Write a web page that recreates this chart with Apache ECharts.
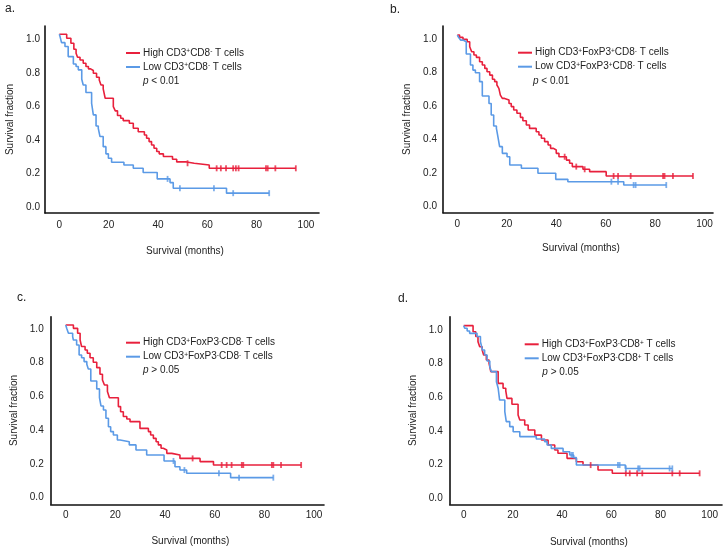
<!DOCTYPE html>
<html><head><meta charset="utf-8">
<script src="https://cdn.jsdelivr.net/npm/echarts@6/dist/echarts.min.js"></script>
<style>html,body{margin:0;padding:0;background:#fff}#c{width:726px;height:551px}</style>
</head><body><div id="c"></div>
<script>
// ---------- text / ticks ----------
const xTicks = [0, 20, 40, 60, 80, 100];
const yTicks = [0, 0.2, 0.4, 0.6, 0.8, 1.0];
const panelLabels = ['a.', 'b.', 'c.', 'd.'];
const highNames = ['High CD3⁺CD8⁻ T cells', 'High CD3⁺FoxP3⁺CD8⁻ T cells', 'High CD3⁺FoxP3⁻CD8⁻ T cells', 'High CD3⁺FoxP3⁻CD8⁺ T cells'];
const lowNames = ['Low CD3⁺CD8⁻ T cells', 'Low CD3⁺FoxP3⁺CD8⁻ T cells', 'Low CD3⁺FoxP3⁻CD8⁻ T cells', 'Low CD3⁺FoxP3⁻CD8⁺ T cells'];
const pTexts = ['< 0.01', '< 0.01', '> 0.05', '> 0.05'];
const xTitle = 'Survival (months)';
const yTitle = 'Survival fraction';

// ---------- panel a ----------
const aHighTime = [0, 3.0, 4.7, 5.9, 6.8, 7.4, 8.4, 9.7, 10.8, 11.8, 12.7, 13.8, 15.1, 16.2, 16.9, 17.8, 18.6, 21.9, 22.7, 23.6, 24.9, 25.9, 28.4, 30, 32, 34.5, 35.4, 36.4, 37.4, 38.4, 39.5, 40.5, 42.2, 45.9, 47.6, 51.6, 54.7, 60.8];
const aHighSurv = [1.0, 0.976, 0.946, 0.911, 0.887, 0.863, 0.847, 0.827, 0.808, 0.794, 0.784, 0.768, 0.744, 0.728, 0.698, 0.675, 0.619, 0.569, 0.544, 0.516, 0.5, 0.486, 0.47, 0.44, 0.42, 0.40, 0.381, 0.361, 0.341, 0.321, 0.302, 0.288, 0.272, 0.256, 0.240, 0.232, 0.222, 0.202];
const aHighCensor = [52, 63.8, 65.5, 67.6, 70.5, 71.6, 72.7, 83.8, 84.5, 87.6, 95.9];
const aLowTime = [0, 0.3, 0.9, 2.3, 3.6, 5.7, 6.8, 7.7, 9.1, 9.7, 10.8, 13.1, 13.8, 14.9, 15.8, 16.5, 17.8, 18.9, 19.9, 21.2, 26.2, 30, 34, 39.7, 44.9, 46.2, 67.8];
const aLowSurv = [1.0, 0.986, 0.95, 0.927, 0.867, 0.823, 0.808, 0.788, 0.732, 0.698, 0.653, 0.589, 0.52, 0.454, 0.44, 0.391, 0.331, 0.288, 0.262, 0.238, 0.222, 0.202, 0.177, 0.139, 0.117, 0.083, 0.054];
const aLowCensor = [43.9, 48.9, 62.7, 70.5, 85.1];

// ---------- panel b ----------
const bHighTime = [0, 0.9, 2.3, 4.0, 5.0, 5.8, 6.7, 7.7, 9.0, 10.1, 11.1, 12.0, 13.1, 14.2, 15.1, 16.0, 16.8, 17.4, 18.2, 19.1, 20.9, 21.8, 22.8, 24.1, 25.5, 26.5, 27.9, 29.2, 31.9, 33.0, 34.0, 35.3, 36.7, 37.7, 38.9, 40.0, 41.1, 44.1, 45.4, 46.5, 50.8, 53.5, 60.2];
const bHighSurv = [1.0, 0.986, 0.974, 0.96, 0.93, 0.9, 0.881, 0.867, 0.841, 0.821, 0.801, 0.781, 0.761, 0.736, 0.722, 0.702, 0.682, 0.642, 0.622, 0.612, 0.592, 0.573, 0.553, 0.533, 0.509, 0.489, 0.463, 0.443, 0.423, 0.404, 0.384, 0.364, 0.344, 0.324, 0.314, 0.294, 0.274, 0.254, 0.235, 0.215, 0.199, 0.185, 0.159];
const bHighCensor = [43.4, 48.1, 51.5, 63.2, 65, 70.1, 83.2, 83.8, 87.2, 95.3];
const bLowTime = [0, 0.5, 1.3, 2.3, 3.6, 5.3, 6.3, 7.3, 9.0, 10.1, 12.8, 13.7, 14.7, 15.8, 16.4, 17.1, 18.2, 20.1, 21.2, 25.9, 32.6, 39.8, 44.7, 67.3];
const bLowSurv = [1.0, 0.986, 0.97, 0.96, 0.887, 0.821, 0.791, 0.775, 0.722, 0.636, 0.592, 0.523, 0.457, 0.443, 0.394, 0.334, 0.294, 0.274, 0.225, 0.205, 0.175, 0.139, 0.125, 0.105];
const bLowCensor = [62.3, 65, 71.3, 72.1, 84.5];

// ---------- panel c ----------
const cHighTime = [0, 3.1, 4.8, 5.8, 6.4, 7.8, 8.7, 9.8, 11.1, 12.5, 13.8, 14.8, 15.6, 16.8, 17.6, 21.2, 22.1, 23.2, 24.6, 25.9, 29.9, 33.3, 34.2, 35.3, 36.4, 37.3, 38.4, 39.3, 40.7, 42.7, 46.0, 54.1, 59.5];
const cHighSurv = [1.0, 0.98, 0.951, 0.911, 0.872, 0.852, 0.832, 0.806, 0.779, 0.747, 0.708, 0.674, 0.644, 0.605, 0.569, 0.516, 0.486, 0.457, 0.443, 0.427, 0.387, 0.368, 0.348, 0.328, 0.308, 0.289, 0.269, 0.259, 0.239, 0.229, 0.209, 0.19, 0.17];
const cHighCensor = [51.1, 62.8, 64.8, 66.8, 70.9, 71.5, 83, 83.6, 86.7, 94.8];
const cLowTime = [0, 0.4, 1.1, 2.8, 3.1, 4.4, 5.4, 6.4, 7.4, 8.5, 9.1, 10.1, 12.5, 13.6, 14.2, 15.2, 16.2, 17.2, 18.1, 19.2, 20.8, 21.9, 25.6, 28.3, 32.6, 39.6, 44.0, 46.0, 48.7, 66.4];
const cLowSurv = [1.0, 0.98, 0.951, 0.931, 0.911, 0.881, 0.822, 0.806, 0.783, 0.767, 0.739, 0.668, 0.621, 0.569, 0.52, 0.496, 0.447, 0.397, 0.368, 0.348, 0.318, 0.308, 0.289, 0.259, 0.229, 0.194, 0.16, 0.14, 0.121, 0.095];
const cLowCensor = [43.4, 47.8, 61.7, 69.8, 83.6];

// ---------- panel d ----------
const dHighTime = [0, 3.8, 4.9, 5.8, 6.5, 7.5, 8.1, 9.2, 10.3, 11.0, 14.0, 16.0, 17.1, 17.6, 19.6, 22.1, 22.8, 24.8, 26.2, 28.9, 31.6, 34.3, 37.0, 38.3, 42.0, 45.8, 48.5, 54.6, 60.4];
const dHighSurv = [1.0, 0.964, 0.935, 0.905, 0.875, 0.855, 0.826, 0.796, 0.776, 0.727, 0.657, 0.628, 0.612, 0.568, 0.533, 0.469, 0.44, 0.41, 0.38, 0.35, 0.321, 0.291, 0.261, 0.242, 0.212, 0.192, 0.172, 0.143, 0.123];
const dHighCensor = [51.6, 65.9, 67.5, 70.5, 72.6, 84.8, 87.8, 95.9];
const dLowTime = [0, 0.4, 1.4, 2.4, 5.4, 6.8, 7.6, 8.5, 9.5, 10.6, 11.2, 13.3, 14.0, 14.6, 16.7, 17.3, 18.7, 20.1, 22.8, 29.5, 32.9, 33.9, 35.6, 40.4, 43.1, 44.7, 45.8, 65.7];
const dLowSurv = [1.0, 0.984, 0.968, 0.954, 0.935, 0.905, 0.855, 0.826, 0.79, 0.756, 0.727, 0.667, 0.628, 0.558, 0.489, 0.43, 0.4, 0.37, 0.341, 0.327, 0.311, 0.291, 0.271, 0.251, 0.232, 0.216, 0.172, 0.152];
const dLowCensor = [43.8, 44.4, 62.7, 63.4, 65.9, 70.9, 71.5, 83.7, 84.8];

// ---------- styling / layout (not data) ----------
const RED = '#e8203c', BLUE = '#5b9ae6', INK = '#222', AXIS = '#111';
const FONT = '"Liberation Sans", Arial, Helvetica, sans-serif';

const panels = [
  { label: panelLabels[0], lab: [5, 3], grid: [45, 26, 274, 187], x: [-5.8, 105.3], y: [-0.064, 1.049], yLh: 10, yMargin: 5, xMargin: 7, yGap: 30, xGap: 33,
    legend: [126, 47], p: [143, 76], high: [aHighTime, aHighSurv, aHighCensor], low: [aLowTime, aLowSurv, aLowCensor] },
  { label: panelLabels[1], lab: [390, 4], grid: [443, 26, 270, 186.7], x: [-5.8, 103.4], y: [-0.06, 1.054], yLh: 8, yMargin: 6, xMargin: 7, yGap: 31, xGap: 31,
    legend: [518, 46.7], p: [533, 76.3], high: [bHighTime, bHighSurv, bHighCensor], low: [bLowTime, bLowSurv, bLowCensor] },
  { label: panelLabels[2], lab: [17, 292], grid: [50.7, 316.7, 273.3, 187.6], x: [-6.04, 104], y: [-0.063, 1.049], yLh: 8, yMargin: 7, xMargin: 5.5, yGap: 31, xGap: 32,
    legend: [126, 336.7], p: [143, 365.7], high: [cHighTime, cHighSurv, cHighCensor], low: [cLowTime, cLowSurv, cLowCensor] },
  { label: panelLabels[3], lab: [398, 293], grid: [449.7, 316.7, 272.3, 187.6], x: [-5.7, 105], y: [-0.061, 1.053], yLh: 8.6, yMargin: 7, xMargin: 6.4, yGap: 31, xGap: 33,
    legend: [524.7, 338.3], p: [542.3, 367.3], high: [dHighTime, dHighSurv, dHighCensor], low: [dLowTime, dLowSurv, dLowCensor] }
];

function survAt(times, survs, t) {
  let s = survs[0];
  for (let i = 0; i < times.length; i++) if (times[i] <= t) s = survs[i];
  return s;
}
function curveData(times, survs, censor) {
  const pts = times.map((t, i) => [t, survs[i]]);
  const end = Math.max(...censor, times[times.length - 1]);
  pts.push([end, survs[survs.length - 1]]);
  return pts;
}
function censorData(times, survs, censor) {
  return censor.map(t => [t, survAt(times, survs, t)]);
}
function supFormat(name) {
  return name.replace(/⁺/g, '{sup|+}').replace(/⁻/g, '{sup|-}');
}

const option = {
  animation: false,
  backgroundColor: '#fff',
  textStyle: { fontFamily: FONT },
  grid: [], xAxis: [], yAxis: [], series: [], legend: [], title: []
};

panels.forEach((P, i) => {
  option.grid.push({ left: P.grid[0], top: P.grid[1], width: P.grid[2], height: P.grid[3], containLabel: false });
  option.xAxis.push({
    gridIndex: i, type: 'value', min: P.x[0], max: P.x[1],
    axisLine: { onZero: false, lineStyle: { color: AXIS, width: 1.6 } },
    axisTick: { show: false }, splitLine: { show: false },
    axisLabel: { customValues: xTicks, fontSize: 10, color: INK, margin: P.xMargin, fontFamily: FONT },
    name: xTitle, nameLocation: 'middle', nameGap: P.xGap,
    nameTextStyle: { fontSize: 10, color: INK, fontFamily: FONT, padding: [0, 0, 0, 6] }
  });
  option.yAxis.push({
    gridIndex: i, type: 'value', min: P.y[0], max: P.y[1],
    axisLine: { onZero: false, lineStyle: { color: AXIS, width: 1.6 } },
    axisTick: { show: false }, splitLine: { show: false },
    axisLabel: { customValues: yTicks, fontSize: 10, color: INK, margin: P.yMargin, fontFamily: FONT,
      verticalAlign: 'top', lineHeight: P.yLh, formatter: v => Number(v).toFixed(1) },
    name: yTitle, nameLocation: 'middle', nameGap: P.yGap,
    nameTextStyle: { fontSize: 10, color: INK, fontFamily: FONT }
  });
  const groups = [[highNames[i], RED, P.high], [lowNames[i], BLUE, P.low]];
  groups.forEach(([name, color, d]) => {
    option.series.push({
      name, type: 'line', step: 'end', xAxisIndex: i, yAxisIndex: i,
      data: curveData(d[0], d[1], d[2]), showSymbol: false, symbol: 'none',
      color, lineStyle: { color, width: 1.6 }, z: 3
    });
    option.series.push({
      name: name + ' (censored)', type: 'scatter', xAxisIndex: i, yAxisIndex: i,
      data: censorData(d[0], d[1], d[2]), symbol: 'rect', symbolSize: [1.8, 6],
      itemStyle: { color }, z: 4
    });
  });
  option.legend.push({
    data: [highNames[i], lowNames[i]], left: P.legend[0], top: P.legend[1], orient: 'vertical',
    padding: 0, itemGap: 2, itemWidth: 14, itemHeight: 2, icon: 'rect', selectedMode: false,
    formatter: n => supFormat(n),
    textStyle: { fontSize: 10, color: INK, fontFamily: FONT, lineHeight: 12, padding: [0, 0, 0, -2],
      rich: { sup: { fontSize: 6.5, lineHeight: 12, verticalAlign: 'top', color: INK, fontFamily: FONT, padding: [1, 0, 0, 0] } } }
  });
  option.title.push({
    text: P.label, left: P.lab[0], top: P.lab[1], padding: 0,
    textStyle: { fontSize: 12, fontWeight: 'normal', color: INK, fontFamily: FONT }
  });
  option.title.push({
    text: '{i|p} ' + pTexts[i], left: P.p[0], top: P.p[1], padding: 0,
    textStyle: { fontSize: 10, fontWeight: 'normal', color: INK, fontFamily: FONT,
      rich: { i: { fontStyle: 'italic', fontSize: 10, color: INK, fontFamily: FONT } } }
  });
});

const chart = echarts.init(document.getElementById('c'), null, { renderer: 'canvas' });
chart.setOption(option);
</script>
</body></html>
